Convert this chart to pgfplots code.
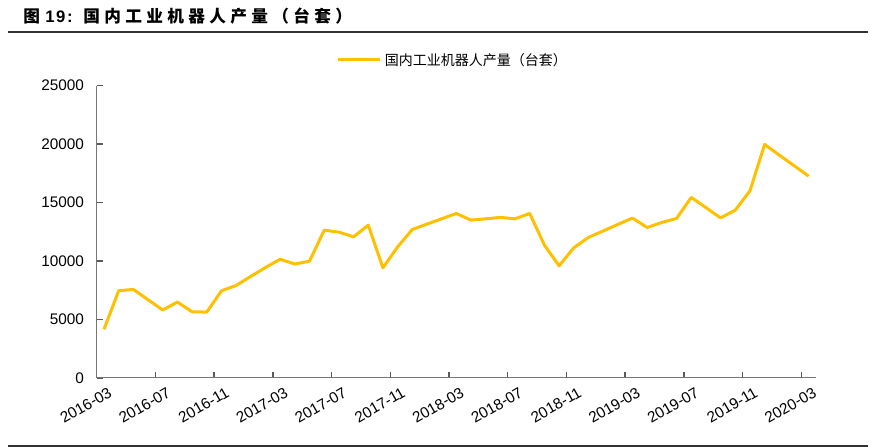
\documentclass[border=0pt]{standalone}
\usepackage{fontspec}
\setmainfont{Liberation Sans}
\newfontfamily\cjk{Noto Sans CJK SC}
\newfontfamily\titlecjk[LetterSpace=26]{Noto Sans CJK SC}
\newfontfamily\titlelat[LetterSpace=10]{Liberation Sans}
\usepackage{pgfplots}
\pgfplotsset{compat=1.18}
\definecolor{gold}{RGB}{255,192,0}
\definecolor{axgray}{RGB}{118,118,118}
\definecolor{tickgray}{RGB}{90,90,90}
\pgfplotstableread{
i v
0 4150
1 7450
2 7560
3 6680
4 5800
5 6480
6 5650
7 5620
8 7440
9 7900
10 8680
11 9430
12 10150
13 9730
14 9980
15 12630
16 12460
17 12060
18 13060
19 9410
20 11200
21 12690
22 13150
23 13600
24 14060
25 13490
26 13600
27 13720
28 13600
29 14060
30 11350
31 9580
32 11120
33 12010
34 12560
35 13120
36 13660
37 12860
38 13290
39 13630
40 15430
41 14560
42 13680
43 14340
44 15990
45 19960
46 19050
47 18150
48 17250
}\robots
\begin{document}
\begin{tikzpicture}
\useasboundingbox (0,0) rectangle (666.75pt,335.25pt);
% title and rules
\node[anchor=west, inner sep=0pt] at (17.25pt,323.25pt)
  {\fontsize{12.5}{14}\selectfont\bfseries{\titlecjk 图}\hspace{4pt}{\titlelat 19:}\hspace{8pt}{\titlecjk 国内工业机器人产量（台套）}};
\draw[black!80, line width=1.1pt] (6pt,311.25pt) -- (651pt,311.25pt);
\draw[black!80, line width=1.1pt] (6pt,0.8pt) -- (651pt,0.8pt);
\begin{axis}[
  at={(72.5pt,51.9pt)}, anchor=south west,
  scale only axis, width=539.5pt, height=219.2pt,
  xmin=-0.5, xmax=48.5, ymin=0, ymax=25000,
  axis x line=bottom, axis y line=left,
  axis line style={-, axgray, line width=0.9pt},
  tick style={tickgray, line width=1.1pt},
  tick align=inside, major tick length=4.5pt,
  ytick={0,5000,10000,15000,20000,25000},
  scaled y ticks=false,
  xtick={3.5,7.5,11.5,15.5,19.5,23.5,27.5,31.5,35.5,39.5,43.5,47.5},
  xticklabels={},
  extra x ticks={0,4,8,12,16,20,24,28,32,36,40,44,48},
  extra x tick labels={2016-03,2016-07,2016-11,2017-03,2017-07,2017-11,2018-03,2018-07,2018-11,2019-03,2019-07,2019-11,2020-03},
  extra x tick style={major tick length=0pt, tick style={draw=none}},
  /pgf/number format/assume math mode=true,
  /pgf/number format/1000 sep={},
  ticklabel style={font=\fontsize{11.5}{13}\selectfont},
  yticklabel style={xshift=-6pt},
  xticklabel style={rotate=30, anchor=east, yshift=-11pt, xshift=2.5pt},
  clip=false,
]
\addplot[gold, line width=2.25pt, line join=round] table[x=i, y=v] {\robots};
\end{axis}
% legend
\draw[gold, line width=2.25pt] (253.5pt,290.25pt) -- (285pt,290.25pt);
\node[anchor=west, inner sep=0pt] at (288.5pt,290.25pt) {\cjk\fontsize{10.5}{12}\selectfont 国内工业机器人产量（台套）};
\end{tikzpicture}
\end{document}
